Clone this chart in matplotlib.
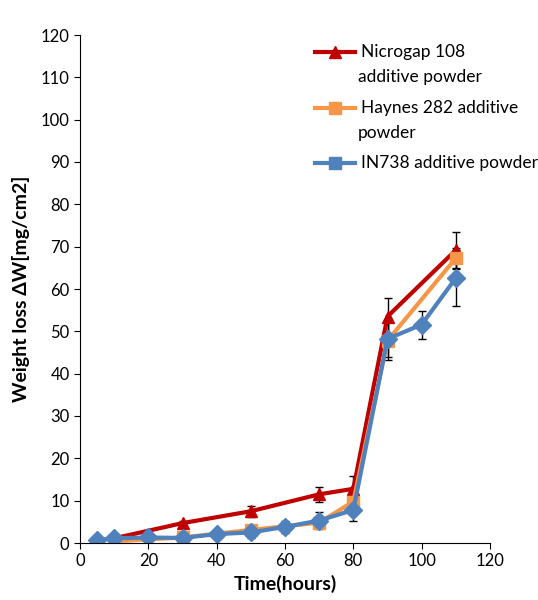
import matplotlib.pyplot as plt
from matplotlib.lines import Line2D

plt.rcParams["font.family"] = ["Lato", "DejaVu Sans"]

# Nicrogap 108
ng_x = [10, 30, 50, 70, 80, 90, 110]
ng_y = [1.1, 4.7, 7.5, 11.5, 12.8, 53.5, 69.2]
ng_err = [0.3, 0.6, 1.3, 1.8, 3.1, 4.4, 4.2]

# Haynes 282
hy_x = [10, 30, 50, 70, 80, 90, 110]
hy_y = [0.4, 1.3, 3.1, 4.8, 9.8, 47.8, 67.3]
hy_err = [0.2, 0.4, 0.8, 1.0, 2.0, 4.5, 2.5]

# IN738
in_x = [5, 10, 20, 30, 40, 50, 60, 70, 80, 90, 100, 110]
in_y = [0.7, 1.1, 1.3, 1.2, 2.1, 2.5, 3.8, 5.3, 7.8, 48.2, 51.6, 62.6]
in_err = [0.3, 0.3, 0.3, 0.3, 1.0, 1.3, 1.5, 2.0, 2.6, 4.3, 3.3, 6.7]

labels = [["Nicrogap 108", "additive powder"], ["Haynes 282 additive", "powder"],
          ["IN738 additive powder"]]
colors = ["#C00000", "#F79646", "#4F81BD"]
markers = ["^", "s", "D"]

W, H = 538, 600
fig = plt.figure(figsize=(W / 100, H / 100), dpi=100)
ax = fig.add_axes([80 / W, 57 / H, 410 / W, 508 / H])

series = [(ng_x, ng_y, ng_err), (hy_x, hy_y, hy_err), (in_x, in_y, in_err)]
for (x, y, err), c, mk in zip(series, colors, markers):
    ax.errorbar(x, y, yerr=err, color=c, lw=3, marker=mk, ms=9, mec=c, mfc=c,
                ecolor="black", elinewidth=1, capsize=3, capthick=1)

ax.set_xlim(0, 120)
ax.set_ylim(0, 120)
ax.set_xticks(range(0, 121, 20))
ax.set_yticks(range(0, 121, 10))
ax.tick_params(direction="out", length=4, labelsize=12, width=0.8)
for s in ["top", "right"]:
    ax.spines[s].set_visible(False)
ax.set_xlabel("Time(hours)", fontsize=14, fontweight="bold")
ax.set_ylabel("Weight loss ΔW[mg/cm2]", fontsize=14, fontweight="bold", labelpad=8)

# legend drawn by hand so the handle sits on the first text line, as in the original
legend_y = [52, 108, 163]
for lines, c, mk, y0 in zip(labels, colors, markers, legend_y):
    fig.add_artist(Line2D([315 / W, 355 / W], [1 - y0 / H] * 2, color=c, lw=3,
                          transform=fig.transFigure))
    fig.add_artist(Line2D([335 / W], [1 - y0 / H], color=c, marker="s" if mk == "D" else mk,
                          ms=9, transform=fig.transFigure))
    for k, txt in enumerate(lines):
        fig.text(361 / W if k == 0 else 358 / W, 1 - (y0 + 25 * k) / H, txt,
                 fontsize=12.5, va="center", ha="left")

fig.savefig("out.png", dpi=100)
